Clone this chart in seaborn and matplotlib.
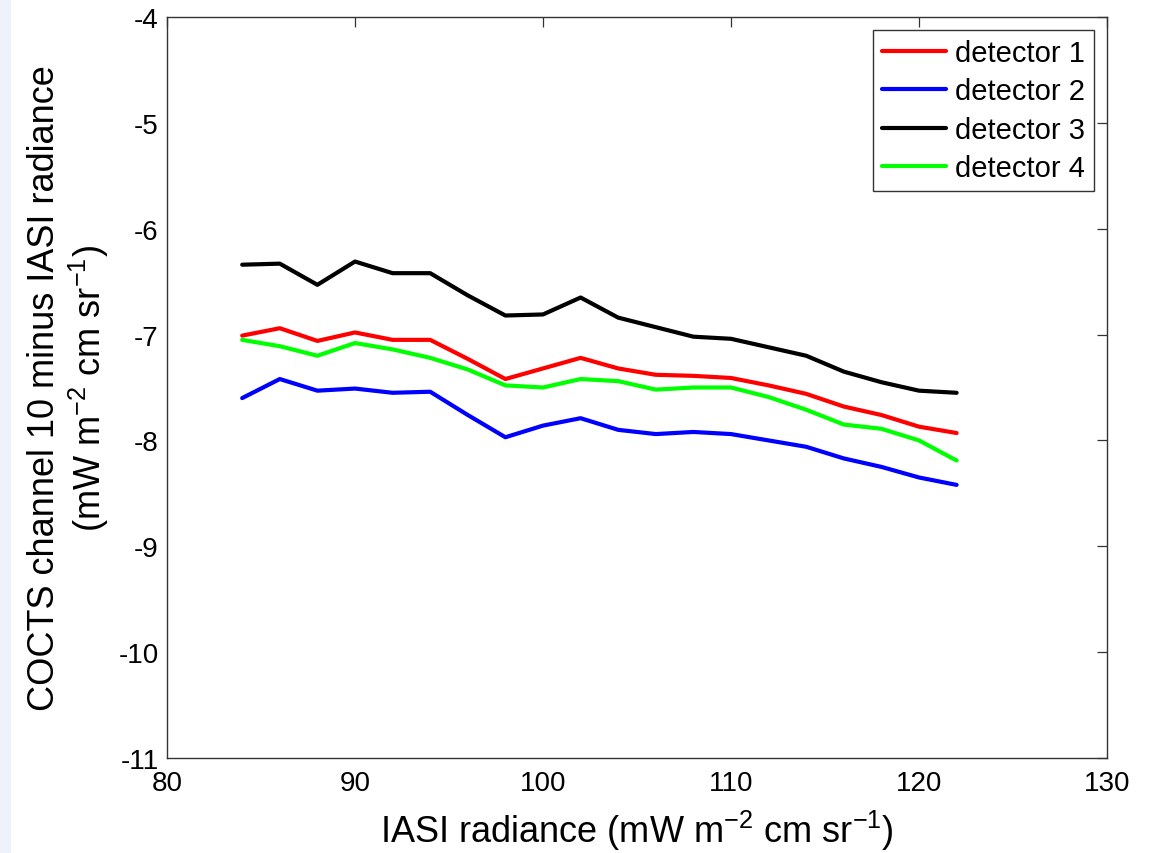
import matplotlib
matplotlib.use("Agg")
import matplotlib.pyplot as plt
import matplotlib.patches as mpatches
import seaborn as sns
import pandas as pd

x_vals = [84, 86, 88, 90, 92, 94, 96, 98, 100, 102, 104, 106, 108, 110, 112, 114, 116, 118, 120, 122]
det1 = [-7.01, -6.94, -7.06, -6.98, -7.05, -7.05, -7.23, -7.42, -7.32, -7.22, -7.32, -7.38, -7.39, -7.41, -7.48, -7.56, -7.68, -7.76, -7.87, -7.93]
det2 = [-7.60, -7.42, -7.53, -7.51, -7.55, -7.54, -7.76, -7.97, -7.86, -7.79, -7.90, -7.94, -7.92, -7.94, -8.00, -8.06, -8.17, -8.25, -8.35, -8.42]
det3 = [-6.34, -6.33, -6.53, -6.31, -6.42, -6.42, -6.63, -6.82, -6.81, -6.65, -6.84, -6.93, -7.02, -7.04, -7.12, -7.20, -7.35, -7.45, -7.53, -7.55]
det4 = [-7.05, -7.11, -7.20, -7.08, -7.14, -7.22, -7.33, -7.48, -7.50, -7.42, -7.44, -7.52, -7.50, -7.50, -7.59, -7.71, -7.85, -7.89, -8.00, -8.19]
series_names = ["detector 1", "detector 2", "detector 3", "detector 4"]
colors = ["#ff0000", "#0000ff", "#000000", "#00ff00"]
x_ticks = [80, 90, 100, 110, 120, 130]
y_ticks = [-11, -10, -9, -8, -7, -6, -5, -4]

rows = []
for name, vals in zip(series_names, [det1, det2, det3, det4]):
    for xv, yv in zip(x_vals, vals):
        rows.append({"x": xv, "y": yv, "detector": name})
df = pd.DataFrame(rows)

sns.set_style("white")
plt.rcParams["font.family"] = ["Liberation Sans", "DejaVu Sans"]
plt.rcParams["mathtext.fontset"] = "custom"
plt.rcParams["mathtext.rm"] = "Liberation Sans"
plt.rcParams["mathtext.it"] = "Liberation Sans"
plt.rcParams["text.color"] = "black"
plt.rcParams["axes.labelcolor"] = "black"

fig = plt.figure(figsize=(11.57, 8.54), dpi=100)
fig.patch.set_facecolor("white")
fig.patches.append(mpatches.Rectangle((0, 0), 11 / 1157, 1, transform=fig.transFigure,
                                      facecolor="#eef2fb", edgecolor="none", zorder=0))
ax = fig.add_axes([167 / 1157, 1 - 759 / 854, (1107 - 167) / 1157, (759 - 18) / 854])

sns.lineplot(data=df, x="x", y="y", hue="detector", palette=colors,
             hue_order=series_names, linewidth=3.0, ax=ax, estimator=None, sort=False)

ax.set_xlim(80, 130)
ax.set_ylim(-11, -4)
ax.set_xticks(x_ticks)
ax.set_yticks(y_ticks)
ax.set_xticklabels([str(t) for t in x_ticks])
ax.set_yticklabels([str(t) for t in y_ticks])
ax.tick_params(direction="in", length=7, width=0.9, top=True, right=True,
               labelsize=20, colors="#333333", labelcolor="black")
ax.tick_params(axis="x", pad=9)
ax.tick_params(axis="y", pad=6)
for s in ax.spines.values():
    s.set_color("#333333")
    s.set_linewidth(1.0)

ax.set_xlabel(r"IASI radiance (mW m$^{-2}$ cm sr$^{-1}$)", fontsize=26, labelpad=8)
ax.set_ylabel("COCTS channel 10 minus IASI radiance\n" + r"(mW m$^{-2}$ cm sr$^{-1}$)",
              fontsize=26, labelpad=5, linespacing=1.15)

leg = ax.legend(loc="upper right", fontsize=21, frameon=True, fancybox=False,
                edgecolor="#333333", framealpha=1, handlelength=2.2, handletextpad=0.3,
                borderpad=0.3, labelspacing=0.36, borderaxespad=0.45)
leg.get_frame().set_linewidth(1.0)
for line in leg.get_lines():
    line.set_linewidth(3.0)

fig.savefig("out.png", dpi=100)
